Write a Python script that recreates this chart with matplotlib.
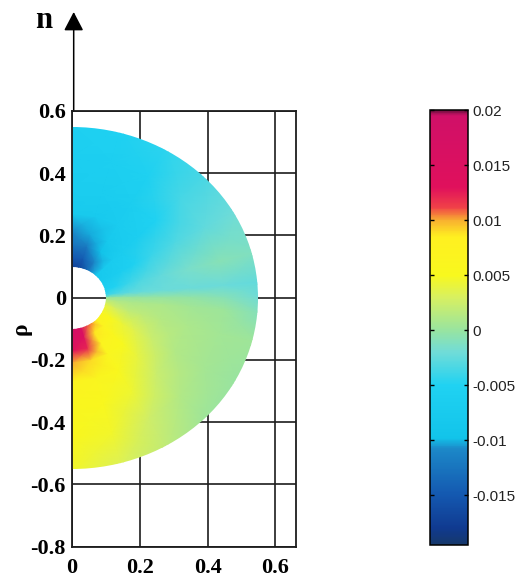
import numpy as np
import matplotlib
matplotlib.use("Agg")
import matplotlib.pyplot as plt
from matplotlib.colors import LinearSegmentedColormap, Normalize
from matplotlib.cm import ScalarMappable
from matplotlib.patches import Wedge

W, H = 517, 579
SERIF = "Liberation Serif"
SANS = "Liberation Sans"

# Estimated field: rows follow angle_deg, columns follow radius
radius = [0.09, 0.13, 0.17, 0.21, 0.27, 0.35, 0.45, 0.56]
angle_deg = [90, 75, 60, 45, 30, 15, 5, 0, -5, -15, -30, -45, -60, -75, -90]
field_90 = [-.0175, -.0150, -.0125, -.0110, -.0078, -.0068, -.0062, -.0058]
field_75 = [-.0170, -.0145, -.0120, -.0102, -.0076, -.0066, -.0060, -.0052]
field_60 = [-.0130, -.0112, -.0098, -.0082, -.0070, -.0065, -.0055, -.0045]
field_45 = [-.0082, -.0076, -.0070, -.0068, -.0062, -.0050, -.0036, -.0034]
field_30 = [-.0075, -.0070, -.0064, -.0054, -.0040, -.0032, -.0026, -.0020]
field_15 = [-.0062, -.0050, -.0040, -.0032, -.0025, -.0016, -.0008, -.0012]
field_p5 = [-.0045, -.0032, -.0026, -.0023, -.0022, -.0022, -.0022, -.0026]
field_00 = [.0000, .0002, .0001, .0000, .0000, -.0002, -.0008, -.0020]
field_m5 = [.0018, .0012, .0010, .0010, .0010, .0005, .0002, -.0010]
field_m15 = [.0045, .0028, .0020, .0018, .0014, .0010, .0005, .0003]
field_m30 = [.0062, .0055, .0042, .0035, .0024, .0012, .0006, .0000]
field_m45 = [.0078, .0068, .0058, .0050, .0040, .0024, .0012, .0002]
field_m60 = [.0112, .0088, .0068, .0060, .0054, .0044, .0026, .0018]
field_m75 = [.0170, .0150, .0122, .0090, .0062, .0056, .0046, .0032]
field_m90 = [.0185, .0165, .0135, .0100, .0070, .0058, .0054, .0045]
hole_radius, outer_radius = 0.10, 0.55

x_ticks = [0, 0.2, 0.4, 0.6]
x_labels = ["0", "0.2", "0.4", "0.6"]
y_ticks = [0.6, 0.4, 0.2, 0, -0.2, -0.4, -0.6, -0.8]
y_labels = ["0.6", "0.4", "0.2", "0", "-0.2", "-0.4", "-0.6", "-0.8"]
cbar_ticks = [0.02, 0.015, 0.01, 0.005, 0, -0.005, -0.01, -0.015]
cbar_labels = ["0.02", "0.015", "0.01", "0.005", "0", "-0.005", "-0.01", "-0.015"]
c_min, c_max = -0.0195, 0.02

# Colour scale
scale_values = [-.0195, -.018, -.015, -.0108, -.0098, -.005, -.002, 0, .003, .005,
                .0085, .0100, .0112, .0130, .0195, .0200]
scale_colors = ["#16386a", "#103a90", "#1458b0", "#1c88c8", "#12c4ea", "#20d2f2",
                "#70dcd8", "#98e4a0", "#d8f060", "#f8f81e", "#fff020", "#f8b030",
                "#f04048", "#e0105c", "#d01068", "#701040"]

fig = plt.figure(figsize=(W / 100, H / 100), dpi=100)
ax = fig.add_axes([72 / W, 1 - 546.5 / H, 224 / W, 435.5 / H])

field = np.array([field_90, field_75, field_60, field_45, field_30, field_15, field_p5,
                  field_00, field_m5, field_m15, field_m30, field_m45, field_m60,
                  field_m75, field_m90])
r, a = np.meshgrid(radius, np.radians(angle_deg))
cmap = LinearSegmentedColormap.from_list(
    "bar", [((v - c_min) / (c_max - c_min), c) for v, c in zip(scale_values, scale_colors)], N=512)
norm = Normalize(c_min, c_max)
mesh = ax.pcolormesh(r * np.cos(a), r * np.sin(a), field, cmap=cmap, norm=norm,
                     shading="gouraud", zorder=3, rasterized=True)
ring = Wedge((0, 0), outer_radius, -90, 90, width=outer_radius - hole_radius,
             transform=ax.transData, fc="none", ec="none")
ax.add_patch(ring)
mesh.set_clip_path(ring)

ax.set_xlim(0, 224 / 339)
ax.set_ylim(-0.8, 0.6)
ax.set_xticks(x_ticks, x_labels, family=SERIF, weight="bold", fontsize=16)
ax.set_yticks(y_ticks, y_labels, family=SERIF, weight="bold", fontsize=16)
ax.tick_params(length=0)
ax.tick_params(axis="x", pad=8)
ax.tick_params(axis="y", pad=4.5)
ax.grid(True, color="#1c1c1c", lw=1.2, zorder=1)
ax.set_axisbelow(True)
for s in ax.spines.values():
    s.set_linewidth(1.3)
    s.set_color("#1c1c1c")
    s.set_zorder(4)

# Axis arrow rising above the plot
ax.annotate("", xy=(0.005, 0.6 + 99 / 311), xytext=(0.005, 0.6), annotation_clip=False,
            arrowprops=dict(arrowstyle="-|>,head_length=1.15,head_width=0.6", color="black",
                            lw=1.1, shrinkA=0, shrinkB=0, mutation_scale=10))
fig.text(44 / W, 1 - 20 / H, "n", family=SERIF, weight="bold", fontsize=22,
         ha="center", va="center")
fig.text(21 / W, 1 - 329 / H, "ρ", family=SERIF, weight="bold", fontsize=17,
         rotation=90, ha="center", va="center")

cax = fig.add_axes([430 / W, 1 - 545 / H, 38 / W, 435 / H])
cb = fig.colorbar(ScalarMappable(norm=norm, cmap=cmap), cax=cax)
cb.set_ticks(cbar_ticks, labels=cbar_labels)
cb.ax.tick_params(direction="in", length=3, width=1, left=True, right=True, pad=3,
                  labelsize=11)
for t in cb.ax.get_yticklabels():
    t.set_family(SANS)
    t.set_color("#222222")
cb.outline.set_linewidth(1.1)

fig.savefig("out.png", dpi=100)
